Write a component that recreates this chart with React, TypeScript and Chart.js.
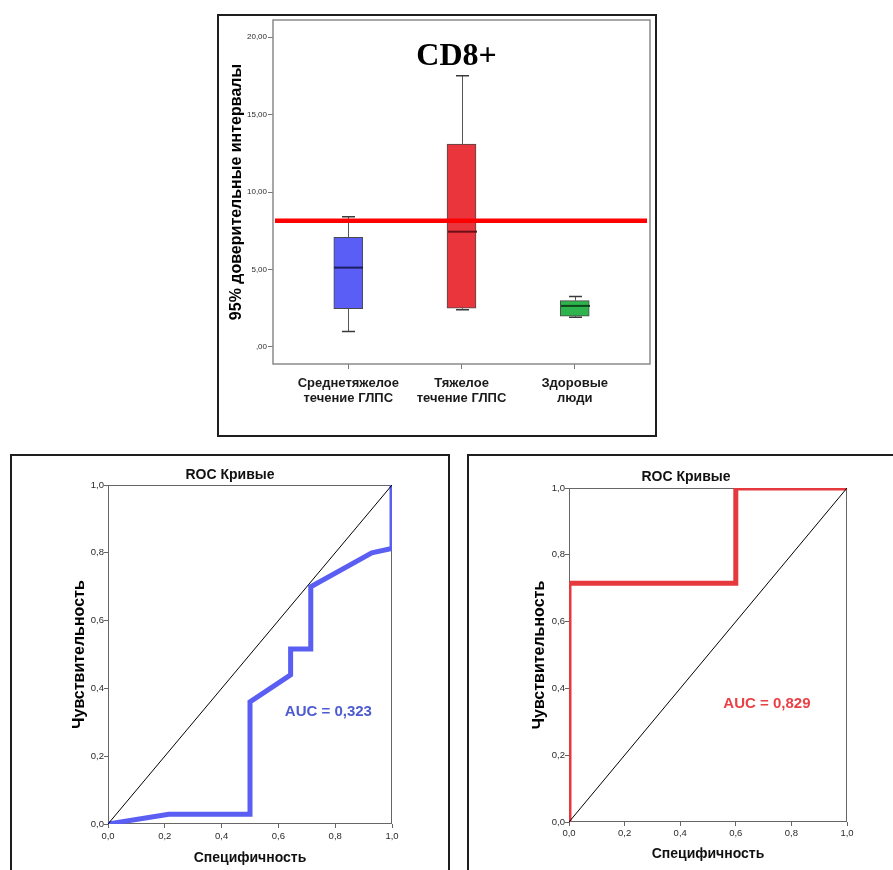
import React, { useEffect, useRef } from 'react';
import { Chart, registerables } from 'chart.js';

Chart.register(...registerables);

// ---------------- DATA ----------------
const boxCategories: string[][] = [
  ['Среднетяжелое', 'течение ГЛПС'],
  ['Тяжелое', 'течение ГЛПС'],
  ['Здоровые', 'люди'],
];
const boxMin = [1.0, 2.4, 1.92];
const boxQ1 = [2.47, 2.5, 1.98];
const boxMedian = [5.12, 7.44, 2.65];
const boxQ3 = [7.07, 13.1, 2.99];
const boxMax = [8.4, 17.5, 3.25];
const cutoffValue = 8.15;
const boxYTicks = [0, 5, 10, 15, 20];

const rocTicks = [0, 0.2, 0.4, 0.6, 0.8, 1.0];
const diagonal = [0, 1];

const roc1X = [0, 0.214, 0.5, 0.5, 0.643, 0.643, 0.714, 0.714, 0.929, 1.0, 1.0];
const roc1Y = [0, 0.029, 0.029, 0.36, 0.44, 0.516, 0.516, 0.70, 0.80, 0.813, 1.0];
const roc1Auc = 'AUC = 0,323';

const roc2X = [0, 0, 0.6, 0.6, 1.0];
const roc2Y = [0, 0.715, 0.715, 1.0, 1.0];
const roc2Auc = 'AUC = 0,829';

// ---------------- STYLE ----------------
const SANS = '"Liberation Sans", Arial, sans-serif';
const SERIF = '"Liberation Serif", "Times New Roman", serif';
const boxFill = ['#5a5ef7', '#ea353d', '#2fb34d'];
const medianColor = ['#1c1e5e', '#6a0f14', '#0c451a'];

const fmt2 = (v: number) => (v === 0 ? ',00' : v.toFixed(2).replace('.', ','));
const fmt1 = (v: number) => Number(v).toFixed(1).replace('.', ',');

const boxPlugin = {
  id: 'boxExtras',
  beforeDatasetsDraw(chart: any) {
    const { ctx, chartArea: a } = chart;
    ctx.save();
    ctx.strokeStyle = '#8a8a8a';
    ctx.lineWidth = 1.5;
    ctx.strokeRect(a.left, a.top, a.right - a.left, a.bottom - a.top);
    ctx.restore();
  },
  afterDatasetsDraw(chart: any) {
    const { ctx, chartArea: a, scales } = chart;
    const x = scales.x;
    const y = scales.y;
    const meta = chart.getDatasetMeta(0);
    ctx.save();
    boxMin.forEach((_, i) => {
      const cx = Math.round(x.getPixelForValue(i + 1)) + 0.5;
      const bw = meta.data[i].width;
      const cap = 6.5;
      ctx.strokeStyle = '#555';
      ctx.lineWidth = 1;
      ctx.beginPath();
      ctx.moveTo(cx, y.getPixelForValue(boxMax[i]));
      ctx.lineTo(cx, y.getPixelForValue(boxQ3[i]));
      ctx.moveTo(cx, y.getPixelForValue(boxQ1[i]));
      ctx.lineTo(cx, y.getPixelForValue(boxMin[i]));
      ctx.stroke();
      ctx.lineWidth = 1.5;
      ctx.strokeStyle = '#3a3a3a';
      ctx.beginPath();
      ctx.moveTo(cx - cap, y.getPixelForValue(boxMax[i]));
      ctx.lineTo(cx + cap, y.getPixelForValue(boxMax[i]));
      ctx.moveTo(cx - cap, y.getPixelForValue(boxMin[i]));
      ctx.lineTo(cx + cap, y.getPixelForValue(boxMin[i]));
      ctx.stroke();
      ctx.strokeStyle = medianColor[i];
      ctx.lineWidth = 2;
      ctx.beginPath();
      ctx.moveTo(cx - bw / 2, y.getPixelForValue(boxMedian[i]));
      ctx.lineTo(cx + bw / 2, y.getPixelForValue(boxMedian[i]));
      ctx.stroke();
    });
    // cut-off line
    const cy = y.getPixelForValue(cutoffValue);
    ctx.strokeStyle = '#ff0000';
    ctx.lineWidth = 4.5;
    ctx.beginPath();
    ctx.moveTo(a.left + 2, cy);
    ctx.lineTo(a.right - 3, cy);
    ctx.stroke();
    // title inside plot
    ctx.fillStyle = '#000';
    ctx.font = `bold 32px ${SERIF}`;
    ctx.textAlign = 'center';
    ctx.textBaseline = 'middle';
    ctx.fillText('CD8+', a.left + 0.487 * (a.right - a.left), a.top + 36.5);
    ctx.restore();
  },
};

function boxConfig(): any {
  return {
    type: 'bar',
    data: {
      datasets: [
        {
          data: boxQ1.map((q1, i) => ({ x: i + 1, y: [q1, boxQ3[i]] })),
          backgroundColor: boxFill,
          borderColor: '#4a4a4a',
          borderWidth: 1,
          borderSkipped: false,
          barThickness: 29,
        },
      ],
    },
    options: {
      animation: false,
      responsive: false,
      layout: { padding: { left: 4, right: 5, top: 4, bottom: 0 } },
      plugins: { legend: { display: false }, tooltip: { enabled: false }, title: { display: false } },
      scales: {
        x: {
          type: 'linear',
          min: 0.335,
          max: 3.665,
          offset: false,
          afterBuildTicks: (s: any) => {
            s.ticks = boxCategories.map((_, i) => ({ value: i + 1 }));
          },
          afterFit: (s: any) => {
            s.height = 71;
            s.paddingLeft = 0;
            s.paddingRight = 0;
          },
          grid: { offset: false, drawOnChartArea: false, drawTicks: true, tickLength: 5, color: '#777' },
          border: { display: false },
          ticks: {
            callback: (v: number) => boxCategories[Math.round(v) - 1] ?? '',
            font: { family: SANS, size: 13, weight: 'bold', lineHeight: 1.15 },
            color: '#1a1a1a',
            padding: 6.5,
            maxRotation: 0,
            autoSkip: false,
          },
        },
        y: {
          type: 'linear',
          min: -1.1,
          max: 21.1,
          afterBuildTicks: (s: any) => {
            s.ticks = boxYTicks.map((v) => ({ value: v }));
          },
          afterFit: (s: any) => {
            s.width = 50;
            s.paddingTop = 0;
            s.paddingBottom = 0;
          },
          grid: { drawOnChartArea: false, drawTicks: true, tickLength: 5, color: '#777' },
          border: { display: false },
          ticks: { callback: (v: number) => fmt2(v), font: { family: SANS, size: 8 }, color: '#2a2a2a', padding: 1 },
          title: {
            display: true,
            text: '95% доверительные интервалы',
            font: { family: SANS, size: 16, weight: 'bold' },
            color: '#000',
            padding: { top: 4.4, bottom: 0 },
          },
        },
      },
    },
    plugins: [boxPlugin],
  };
}

const framePlugin = {
  id: 'rocFrame',
  beforeDatasetsDraw(chart: any) {
    const { ctx, chartArea: a } = chart;
    ctx.save();
    ctx.strokeStyle = '#666';
    ctx.lineWidth = 1;
    ctx.strokeRect(a.left + 0.5, a.top + 0.5, a.right - a.left - 1, a.bottom - a.top - 1);
    ctx.restore();
  },
  afterDraw(chart: any) {
    const o = chart.options.plugins.rocFrame;
    if (!o) return;
    const { ctx, scales } = chart;
    ctx.save();
    ctx.fillStyle = o.color;
    ctx.font = `bold 15px ${SANS}`;
    ctx.textAlign = 'center';
    ctx.textBaseline = 'middle';
    ctx.fillText(o.text, scales.x.getPixelForValue(o.x), scales.y.getPixelForValue(o.y));
    ctx.restore();
  },
};

function rocConfig(p: {
  xs: number[];
  ys: number[];
  color: string;
  auc: string;
  aucColor: string;
  aucX: number;
  aucY: number;
  padL: number;
  padR: number;
  yW: number;
  xH: number;
  titleTop: number;
  titleBottom: number;
  yTitleTop: number;
  xTitleBottom: number;
  xLabelPad: number;
}): any {
  const tickFont = { family: SANS, size: 9.5 };
  return {
    type: 'scatter',
    data: {
      datasets: [
        {
          data: diagonal.map((v) => ({ x: v, y: v })),
          showLine: true,
          borderColor: '#000',
          borderWidth: 1,
          pointRadius: 0,
        },
        {
          data: p.xs.map((x, i) => ({ x, y: p.ys[i] })),
          showLine: true,
          borderColor: p.color,
          borderWidth: 5,
          pointRadius: 0,
          borderJoinStyle: 'miter',
          borderCapStyle: 'butt',
        },
      ],
    },
    options: {
      animation: false,
      responsive: false,
      layout: { padding: { left: p.padL, right: p.padR, top: 0, bottom: 0 } },
      plugins: {
        legend: { display: false },
        tooltip: { enabled: false },
        title: {
          display: true,
          text: 'ROC Кривые',
          font: { family: SANS, size: 14, weight: 'bold' },
          color: '#111',
          padding: { top: p.titleTop, bottom: p.titleBottom },
        },
        rocFrame: { text: p.auc, color: p.aucColor, x: p.aucX, y: p.aucY },
      },
      scales: {
        x: {
          type: 'linear',
          min: 0,
          max: 1,
          afterBuildTicks: (s: any) => {
            s.ticks = rocTicks.map((v) => ({ value: v }));
          },
          afterFit: (s: any) => {
            s.height = p.xH;
            s.paddingLeft = 0;
            s.paddingRight = 0;
          },
          grid: { drawOnChartArea: false, drawTicks: true, tickLength: 4, color: '#666' },
          border: { display: false },
          ticks: { callback: (v: number) => fmt1(v), font: tickFont, color: '#2a2a2a', padding: p.xLabelPad, maxRotation: 0 },
          title: {
            display: true,
            text: 'Специфичность',
            font: { family: SANS, size: 14, weight: 'bold' },
            color: '#111',
            padding: { top: 0, bottom: p.xTitleBottom },
          },
        },
        y: {
          type: 'linear',
          min: 0,
          max: 1,
          afterBuildTicks: (s: any) => {
            s.ticks = rocTicks.map((v) => ({ value: v }));
          },
          afterFit: (s: any) => {
            s.width = p.yW;
            s.paddingTop = 0;
            s.paddingBottom = 0;
          },
          grid: { drawOnChartArea: false, drawTicks: true, tickLength: 4, color: '#666' },
          border: { display: false },
          ticks: { callback: (v: number) => fmt1(v), font: tickFont, color: '#2a2a2a', padding: 0 },
          title: {
            display: true,
            text: 'Чувствительность',
            font: { family: SANS, size: 16, weight: 'bold' },
            color: '#000',
            padding: { top: p.yTitleTop, bottom: 0 },
          },
        },
      },
    },
    plugins: [framePlugin],
  };
}

function ChartCanvas(props: { left: number; top: number; width: number; height: number; make: () => any }) {
  const ref = useRef<HTMLCanvasElement | null>(null);
  useEffect(() => {
    if (!ref.current) return;
    const chart = new Chart(ref.current, props.make());
    return () => chart.destroy();
  }, []);
  return (
    <canvas
      ref={ref}
      width={props.width}
      height={props.height}
      style={{ position: 'absolute', left: props.left, top: props.top, width: props.width, height: props.height }}
    />
  );
}

const frameStyle = (left: number, top: number, width: number, height: number): React.CSSProperties => ({
  position: 'absolute',
  left,
  top,
  width,
  height,
  border: '2px solid #1e1e1e',
  boxSizing: 'border-box',
});

export default function App() {
  return (
    <div style={{ position: 'absolute', left: 0, top: 0, width: 893, height: 870, background: '#fff', overflow: 'hidden' }}>
      <div style={frameStyle(217, 14, 440, 423)} />
      <div style={frameStyle(10, 454, 440, 440)} />
      <div style={frameStyle(467, 454, 440, 440)} />
      <ChartCanvas left={219} top={16} width={436} height={419} make={boxConfig} />
      <ChartCanvas
        left={12}
        top={456}
        width={436}
        height={414}
        make={() =>
          rocConfig({
            xs: roc1X,
            ys: roc1Y,
            color: '#5a5ef2',
            auc: roc1Auc,
            aucColor: '#4d5bd0',
            aucX: 0.776,
            aucY: 0.33,
            padL: 56,
            padR: 56,
            yW: 40,
            xH: 46,
            titleTop: 10.6,
            titleBottom: 1.6,
            yTitleTop: 2.4,
            xTitleBottom: 3.6,
            xLabelPad: 2.6,
          })
        }
      />
      <ChartCanvas
        left={469}
        top={456}
        width={424}
        height={414}
        make={() =>
          rocConfig({
            xs: roc2X,
            ys: roc2Y,
            color: '#e6393e',
            auc: roc2Auc,
            aucColor: '#e84246',
            aucX: 0.712,
            aucY: 0.355,
            padL: 56,
            padR: 46,
            yW: 44,
            xH: 48,
            titleTop: 12.3,
            titleBottom: 2.9,
            yTitleTop: 5.4,
            xTitleBottom: 7.6,
            xLabelPad: 1.3,
          })
        }
      />
    </div>
  );
}
